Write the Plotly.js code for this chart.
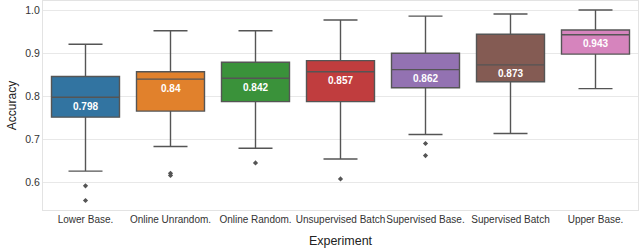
<!DOCTYPE html>
<html>
<head>
<meta charset="utf-8">
<script src="https://cdn.plot.ly/plotly-3.0.1.min.js"></script>
<style>html,body{margin:0;padding:0;background:#fff;}#chart{width:640px;height:249px;}</style>
</head>
<body>
<div id="chart"></div>
<script>
const categories = ["Lower Base.", "Online Unrandom.", "Online Random.", "Unsupervised Batch", "Supervised Base.", "Supervised Batch", "Upper Base."];
const lowerWhisker = [0.627, 0.684, 0.680, 0.655, 0.712, 0.714, 0.818];
const q1 = [0.752, 0.766, 0.788, 0.788, 0.820, 0.834, 0.898];
const medians = [0.798, 0.840, 0.842, 0.857, 0.862, 0.873, 0.943];
const q3 = [0.846, 0.857, 0.879, 0.883, 0.900, 0.944, 0.954];
const upperWhisker = [0.921, 0.952, 0.952, 0.977, 0.986, 0.991, 1.000];
const medianLabels = ["0.798", "0.84", "0.842", "0.857", "0.862", "0.873", "0.943"];
const outlierCats = ["Lower Base.", "Lower Base.", "Online Unrandom.", "Online Unrandom.", "Online Random.", "Unsupervised Batch", "Supervised Base.", "Supervised Base."];
const outlierVals = [0.593, 0.559, 0.622, 0.617, 0.646, 0.609, 0.691, 0.663];
const colors = ["#3274a1", "#e1812c", "#3a923a", "#c03d3e", "#9372b2", "#845b53", "#d684bd"];

const lineGray = "#555555";
const traces = categories.map((c, i) => ({
  type: "box",
  x: [c],
  q1: [q1[i]], median: [medians[i]], q3: [q3[i]],
  lowerfence: [lowerWhisker[i]], upperfence: [upperWhisker[i]],
  fillcolor: colors[i],
  line: {color: lineGray, width: 1.4},
  width: 0.8,
  whiskerwidth: 0.5,
  boxpoints: false,
  showlegend: false,
  hoverinfo: "skip"
}));
traces.push({
  type: "scatter", mode: "markers",
  x: outlierCats, y: outlierVals,
  marker: {symbol: "diamond", size: 4, color: lineGray},
  showlegend: false, hoverinfo: "skip"
});

const annotations = categories.map((c, i) => ({
  x: c, y: medians[i], xref: "x", yref: "y",
  text: "<b>" + medianLabels[i] + "</b>",
  showarrow: false, yshift: -9,
  font: {family: "Liberation Sans, Arial, sans-serif", size: 10, color: "#ffffff"}
}));

const layout = {
  width: 640, height: 249,
  margin: {l: 43, r: 2, t: 1, b: 39},
  paper_bgcolor: "#ffffff", plot_bgcolor: "#ffffff",
  boxmode: "overlay",
  font: {family: "Liberation Sans, Arial, sans-serif", size: 10, color: "#333333"},
  xaxis: {
    type: "category", categoryorder: "array", categoryarray: categories,
    range: [-0.5, 6.5],
    showgrid: false, zeroline: false,
    showline: true, mirror: true, linecolor: "#e3e3e3", linewidth: 1,
    ticks: "", tickangle: 0, automargin: false,
    tickfont: {size: 10, color: "#333333"},
    title: {text: "Experiment", font: {size: 12.5, color: "#222222"}, standoff: 12}
  },
  yaxis: {
    range: [0.537, 1.021],
    tickvals: [0.6, 0.7, 0.8, 0.9, 1.0], tickformat: ".1f",
    showgrid: true, gridcolor: "#e8e8e8", gridwidth: 1, zeroline: false,
    showline: true, mirror: true, linecolor: "#e3e3e3", linewidth: 1,
    ticks: "", ticklen: 0, automargin: false,
    tickfont: {size: 10.5, color: "#333333"},
    title: {text: "Accuracy", font: {size: 12, color: "#222222"}, standoff: 6}
  },
  annotations: annotations
};

Plotly.newPlot("chart", traces, layout, {staticPlot: true, displayModeBar: false});
</script>
</body>
</html>
